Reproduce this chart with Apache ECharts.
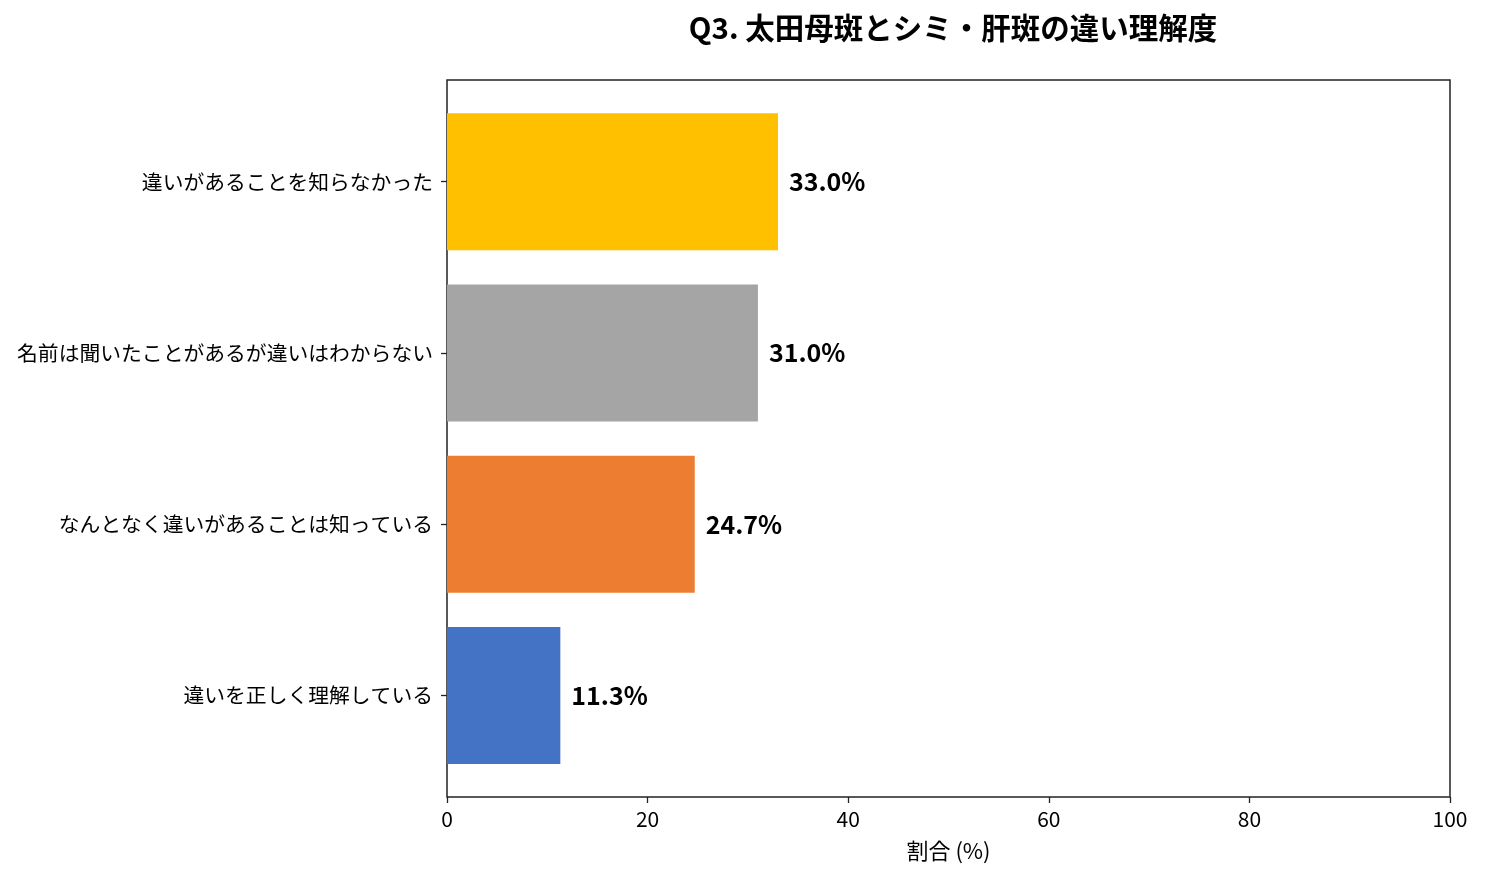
<!DOCTYPE html>
<html>
<head>
<meta charset="utf-8">
<script src="https://cdn.jsdelivr.net/npm/echarts@6/dist/echarts.min.js"></script>
<style>
  html, body { margin: 0; padding: 0; background: #fff; }
  #chart { width: 1486px; height: 881px; }
</style>
</head>
<body>
<div id="chart"></div>
<script>
var categories = ['違いを正しく理解している', 'なんとなく違いがあることは知っている', '名前は聞いたことがあるが違いはわからない', '違いがあることを知らなかった'];
var values = [11.3, 24.7, 31.0, 33.0];
var barColors = ['#4472C4', '#ED7D31', '#A5A5A5', '#FFC000'];
var xTicks = [0, 20, 40, 60, 80, 100];

var font = '"Noto Sans CJK JP", "Noto Sans", sans-serif';
var myChart = echarts.init(document.getElementById('chart'));

var option = {
    textStyle: { fontFamily: font },
    title: {
        text: 'Q3. 太田母斑とシミ・肝斑の違い理解度',
        left: 948,
        textAlign: 'center',
        top: 8,
        textStyle: { fontSize: 29.5, fontWeight: 'bold', color: '#000', fontFamily: font }
    },
    grid: [
        // frame + x axis
        { left: 447, right: 36, top: 80, bottom: 84, show: true, borderColor: '#222', borderWidth: 1.5, backgroundColor: 'transparent' },
        // bars (matplotlib-like margins)
        { left: 447, right: 36, top: 96, bottom: 100 }
    ],
    xAxis: [
        {
            gridIndex: 0, type: 'value', min: 0, max: 100, interval: 20,
            name: '割合 (%)', nameLocation: 'middle', nameGap: 43,
            nameTextStyle: { fontSize: 22, color: '#000', fontFamily: font },
            axisLine: { show: false },
            axisTick: { show: true, length: 6, lineStyle: { color: '#222', width: 1.3 } },
            axisLabel: {
                fontSize: 21, color: '#000', margin: 12,
                formatter: function (v) { return xTicks.indexOf(v) >= 0 ? String(v) : ''; }
            },
            splitLine: { show: false }
        },
        {
            gridIndex: 1, type: 'value', min: 0, max: 100,
            show: false
        }
    ],
    yAxis: [
        { gridIndex: 0, type: 'value', show: false },
        {
            gridIndex: 1, type: 'category', data: categories,
            axisLine: { show: false },
            axisTick: { show: true, alignWithLabel: true, length: 6, lineStyle: { color: '#222', width: 1.3 } },
            axisLabel: { fontSize: 20.8, color: '#000', margin: 14 }
        }
    ],
    series: [{
        type: 'bar',
        xAxisIndex: 1,
        yAxisIndex: 1,
        data: values.map(function (v, i) {
            return { value: v, itemStyle: { color: barColors[i] } };
        }),
        barCategoryGap: '20%',
        label: {
            show: true,
            position: 'right',
            distance: 11,
            formatter: function (p) { return p.value.toFixed(1) + '%'; },
            fontSize: 25, fontWeight: 'bold', color: '#000', fontFamily: font
        },
        animation: false
    }]
};
myChart.setOption(option);
</script>
</body>
</html>
